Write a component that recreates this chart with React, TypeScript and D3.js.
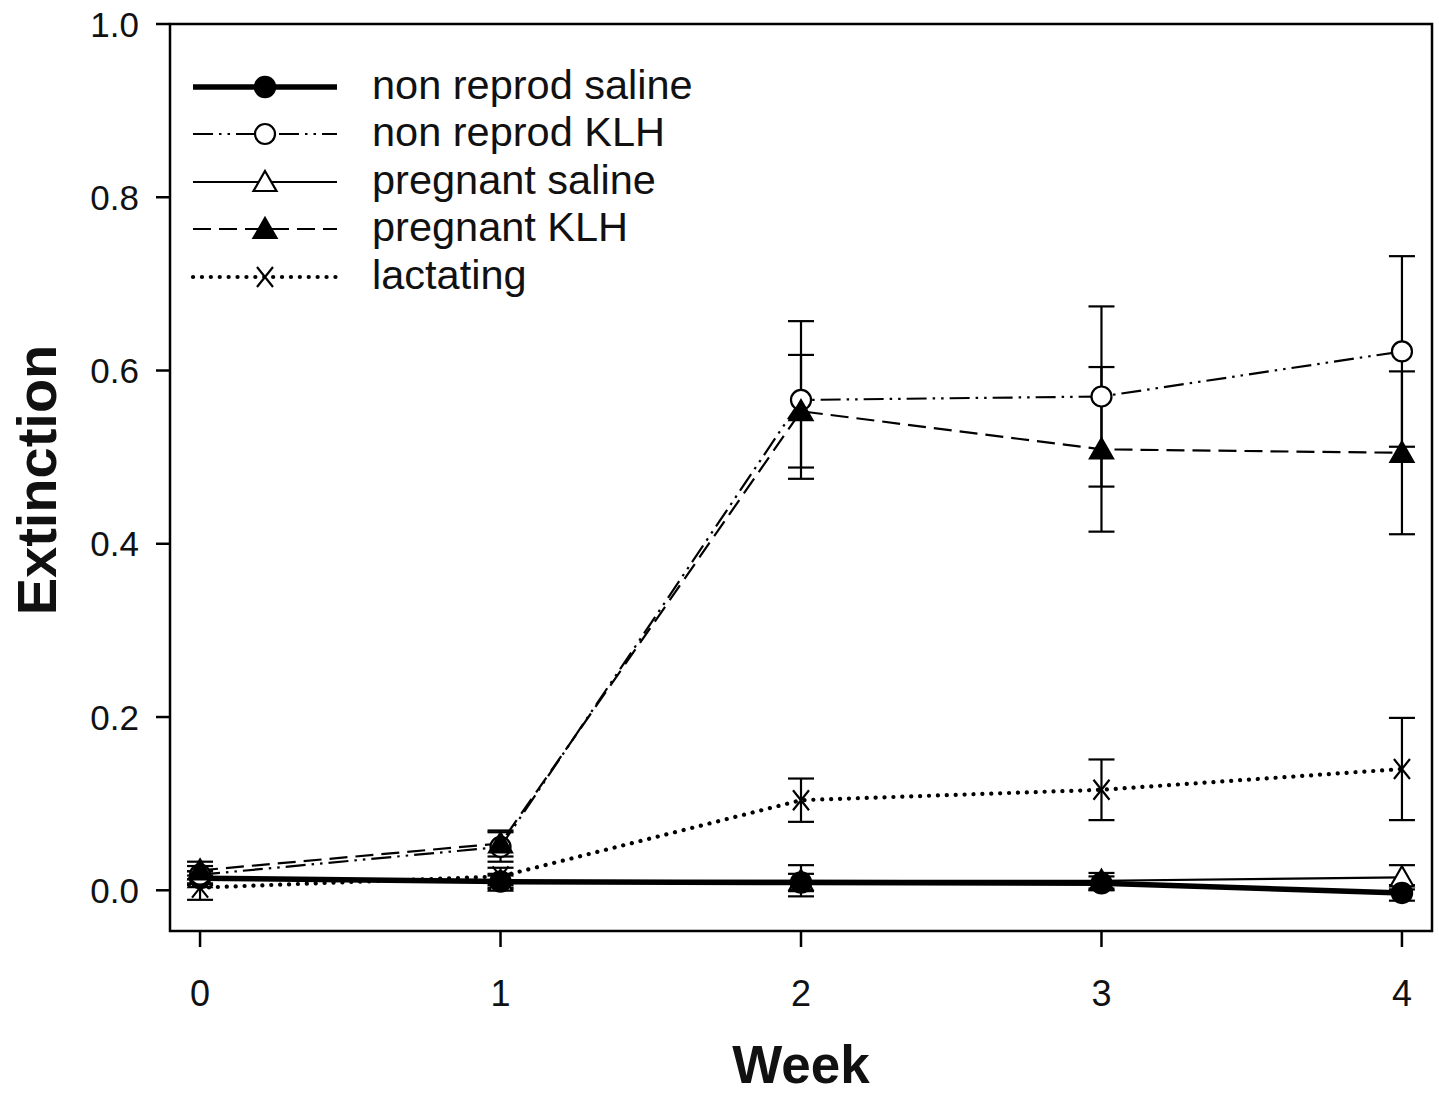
import React from "react";
import * as d3 from "d3";

const weeks = [0, 1, 2, 3, 4];
const nonReprodSaline = [0.014, 0.01, 0.009, 0.008, -0.003];
const nonReprodSalineErr = [0.008, 0.007, 0.01, 0.008, 0.009];
const nonReprodKLH = [0.018, 0.05, 0.566, 0.57, 0.622];
const nonReprodKLHErr = [0.01, 0.017, 0.091, 0.104, 0.11];
const pregnantSaline = [0.014, 0.01, 0.011, 0.011, 0.015];
const pregnantSalineErr = [0.008, 0.009, 0.018, 0.009, 0.014];
const pregnantKLH = [0.023, 0.054, 0.553, 0.509, 0.505];
const pregnantKLHErr = [0.01, 0.015, 0.065, 0.095, 0.094];
const lactating = [0.003, 0.016, 0.104, 0.116, 0.14];
const lactatingErr = [0.014, 0.01, 0.025, 0.035, 0.059];

const yTicks = [0, 0.2, 0.4, 0.6, 0.8, 1.0];
const xTicks = [0, 1, 2, 3, 4];
const seriesNames = [
  "non reprod saline",
  "non reprod KLH",
  "pregnant saline",
  "pregnant KLH",
  "lactating",
];

const W = 1439;
const H = 1093;
const x = d3.scaleLinear().domain([-0.1, 4.1]).range([170, 1432]);
const y = d3.scaleLinear().domain([-0.047, 1]).range([931, 24]);

type Style = {
  width: number;
  dash?: string;
  cap?: "butt" | "round";
  marker: "fcircle" | "ocircle" | "otri" | "ftri" | "x";
};

const styles: Style[] = [
  { width: 5.5, marker: "fcircle" },
  { width: 2.2, dash: "20 6 2.5 6 2.5 6", marker: "ocircle" },
  { width: 2.2, marker: "otri" },
  { width: 2.2, dash: "18 8", marker: "ftri" },
  { width: 4.2, dash: "0.1 8.8", cap: "round", marker: "x" },
];

const means = [nonReprodSaline, nonReprodKLH, pregnantSaline, pregnantKLH, lactating];
const errs = [nonReprodSalineErr, nonReprodKLHErr, pregnantSalineErr, pregnantKLHErr, lactatingErr];

function Marker({ kind, cx, cy }: { kind: Style["marker"]; cx: number; cy: number }) {
  if (kind === "fcircle") return <circle cx={cx} cy={cy} r={10.5} fill="#000" stroke="#000" strokeWidth={1.5} />;
  if (kind === "ocircle") return <circle cx={cx} cy={cy} r={10} fill="#fff" stroke="#000" strokeWidth={2.2} />;
  if (kind === "otri" || kind === "ftri") {
    const p = `M${cx},${cy - 11}L${cx + 11.5},${cy + 9}L${cx - 11.5},${cy + 9}Z`;
    return <path d={p} fill={kind === "ftri" ? "#000" : "#fff"} stroke="#000" strokeWidth={2.2} strokeLinejoin="miter" />;
  }
  return (
    <path
      d={`M${cx - 8},${cy - 10}L${cx + 8},${cy + 10}M${cx - 8},${cy + 10}L${cx + 8},${cy - 10}`}
      stroke="#000"
      strokeWidth={2.2}
      fill="none"
    />
  );
}

export default function App() {
  const line = d3
    .line<number>()
    .x((_, i) => x(weeks[i]))
    .y((d) => y(d));
  const font = "'Liberation Sans', Arial, Helvetica, sans-serif";
  const order = [4, 2, 0, 1, 3];
  const legendY = [87, 134, 182, 229, 277];
  return (
    <svg
      width={W}
      height={H}
      style={{ position: "absolute", left: 0, top: 0, background: "#fff" }}
      fontFamily={font}
    >
      <rect x={0} y={0} width={W} height={H} fill="#fff" />
      {/* error bars */}
      {order.map((s) =>
        weeks.map((w, i) => {
          const xx = x(w);
          const y1 = y(means[s][i] + errs[s][i]);
          const y2 = y(means[s][i] - errs[s][i]);
          return (
            <g key={`e${s}-${i}`} stroke="#000" strokeWidth={2.2}>
              <line x1={xx} x2={xx} y1={y1} y2={y2} />
              <line x1={xx - 13} x2={xx + 13} y1={y1} y2={y1} />
              <line x1={xx - 13} x2={xx + 13} y1={y2} y2={y2} />
            </g>
          );
        })
      )}
      {/* lines */}
      {order.map((s) => (
        <path
          key={`l${s}`}
          d={line(means[s]) || ""}
          fill="none"
          stroke="#000"
          strokeWidth={styles[s].width}
          strokeDasharray={styles[s].dash}
          strokeLinecap={styles[s].cap || "butt"}
        />
      ))}
      {/* markers */}
      {order.map((s) =>
        weeks.map((w, i) => (
          <Marker key={`m${s}-${i}`} kind={styles[s].marker} cx={x(w)} cy={y(means[s][i])} />
        ))
      )}
      {/* frame */}
      <rect
        x={x(-0.1)}
        y={y(1)}
        width={x(4.1) - x(-0.1)}
        height={y(-0.047) - y(1)}
        fill="none"
        stroke="#000"
        strokeWidth={2.5}
      />
      {/* y axis ticks */}
      {yTicks.map((t) => (
        <g key={`yt${t}`}>
          <line x1={x(-0.1) - 14} x2={x(-0.1)} y1={y(t)} y2={y(t)} stroke="#000" strokeWidth={2.5} />
          <text x={139} y={y(t)} dy="0.36em" textAnchor="end" fontSize={35} fill="#111">
            {t.toFixed(1)}
          </text>
        </g>
      ))}
      {/* x axis ticks */}
      {xTicks.map((t) => (
        <g key={`xt${t}`}>
          <line x1={x(t)} x2={x(t)} y1={y(-0.047)} y2={y(-0.047) + 16} stroke="#000" strokeWidth={2.5} />
          <text x={x(t)} y={1006} textAnchor="middle" fontSize={36} fill="#111">
            {t}
          </text>
        </g>
      ))}
      <text x={801} y={1083} textAnchor="middle" fontSize={53} fontWeight="bold" fill="#111">
        Week
      </text>
      <text
        transform={`translate(56,480) rotate(-90)`}
        textAnchor="middle"
        fontSize={56}
        fontWeight="bold"
        fill="#111"
      >
        Extinction
      </text>
      {/* legend */}
      {seriesNames.map((name, s) => (
        <g key={`lg${s}`}>
          <line
            x1={193}
            x2={337}
            y1={legendY[s]}
            y2={legendY[s]}
            stroke="#000"
            strokeWidth={styles[s].width}
            strokeDasharray={styles[s].dash}
            strokeLinecap={styles[s].cap || "butt"}
          />
          <Marker kind={styles[s].marker} cx={265} cy={legendY[s]} />
          <text x={372} y={legendY[s] + 12} fontSize={41.5} fill="#111">
            {name}
          </text>
        </g>
      ))}
    </svg>
  );
}
